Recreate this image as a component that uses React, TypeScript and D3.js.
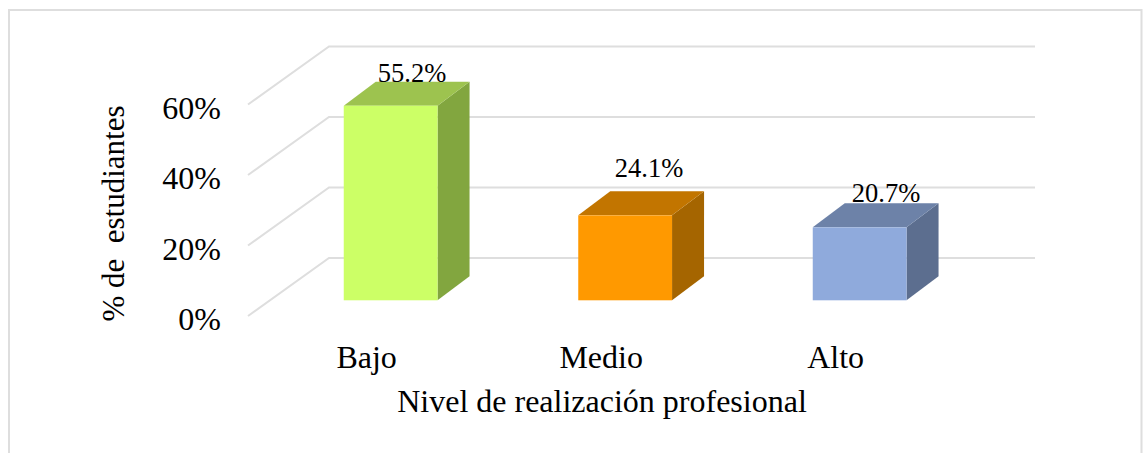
import React from "react";
import * as d3 from "d3";

const categories = ["Bajo", "Medio", "Alto"];
const values = [55.2, 24.1, 20.7];
const ticks = [0, 20, 40, 60];
const frontColors = ["#ccff66", "#ff9900", "#8faadc"];
const topColors = ["#9dc34f", "#c27500", "#6d82a8"];
const sideColors = ["#82a63f", "#a56500", "#5c6e8f"];
const gridColor = "#dedede";
const font = "'Liberation Serif', 'Times New Roman', serif";

const width = 1143;
const height = 453;

// front edge of the floor, wall depth and bar depth
const floorY = 316;
const wallLeft = 248;
const wallBack = { x: 81, y: -58 };
const barDepth = { x: 32, y: -24 };
const barInset = 15.7;

const yScale = d3.scaleLinear().domain([0, 60]).range([floorY, 104.5]);
const xScale = d3
  .scaleBand<string>()
  .domain(categories)
  .range([273.4, 976.9])
  .paddingInner(0.6)
  .paddingOuter(0.3);

const line = d3.line();

const App = () => {
  const bw = xScale.bandwidth();
  const base = floorY - barInset;

  return (
    <svg
      width={width}
      height={height}
      style={{ position: "absolute", left: 0, top: 0, background: "#fff" }}
      fontFamily={font}
      fill="#000"
    >
      {/* outer frame, runs off the bottom of the picture */}
      <path
        d={`M9,${height}V10H1141.5V${height}`}
        fill="none"
        stroke={gridColor}
        strokeWidth={2}
      />

      {/* gridlines on the side wall and back wall */}
      {ticks.map((t) => {
        const y = yScale(t);
        const bx = wallLeft + wallBack.x;
        const by = y + wallBack.y;
        return (
          <path
            key={t}
            d={line([
              [wallLeft, y],
              [bx, by],
              [1035, by],
            ]) as string}
            fill="none"
            stroke={gridColor}
            strokeWidth={2}
          />
        );
      })}

      {/* bars */}
      {categories.map((c, i) => {
        const x0 = xScale(c) as number;
        const x1 = x0 + bw;
        const top = yScale(values[i]) - barInset;
        const dx = barDepth.x;
        const dy = barDepth.y;
        return (
          <g key={c}>
            <path
              d={line([[x1, top], [x1 + dx, top + dy], [x1 + dx, base + dy], [x1, base]]) + "Z"}
              fill={sideColors[i]}
            />
            <path
              d={line([[x0, top], [x0 + dx, top + dy], [x1 + dx, top + dy], [x1, top]]) + "Z"}
              fill={topColors[i]}
            />
            <rect x={x0} y={top} width={bw} height={base - top} fill={frontColors[i]} />
          </g>
        );
      })}

      {/* data labels */}
      <text x={412} y={82} fontSize={26.5} textAnchor="middle">{values[0].toFixed(1)}%</text>
      <text x={649} y={177} fontSize={26.5} textAnchor="middle">{values[1].toFixed(1)}%</text>
      <text x={886} y={202} fontSize={26.5} textAnchor="middle">{values[2].toFixed(1)}%</text>

      {/* value ticks */}
      {ticks.map((t) => (
        <text key={t} x={221} y={yScale(t) + 14} fontSize={32} textAnchor="end">
          {t}%
        </text>
      ))}

      {/* category labels */}
      {categories.map((c) => (
        <text
          key={c}
          x={(xScale(c) as number) + bw / 2 - 24}
          y={368}
          fontSize={32}
          textAnchor="middle"
        >
          {c}
        </text>
      ))}

      <text x={602} y={412} fontSize={32} textAnchor="middle">
        Nivel de realización profesional
      </text>
      <text
        transform="translate(124,213.5) rotate(-90)"
        fontSize={31}
        textAnchor="middle"
        style={{ whiteSpace: "pre" }}
      >
        {"% de  estudiantes"}
      </text>
    </svg>
  );
};

export default App;
